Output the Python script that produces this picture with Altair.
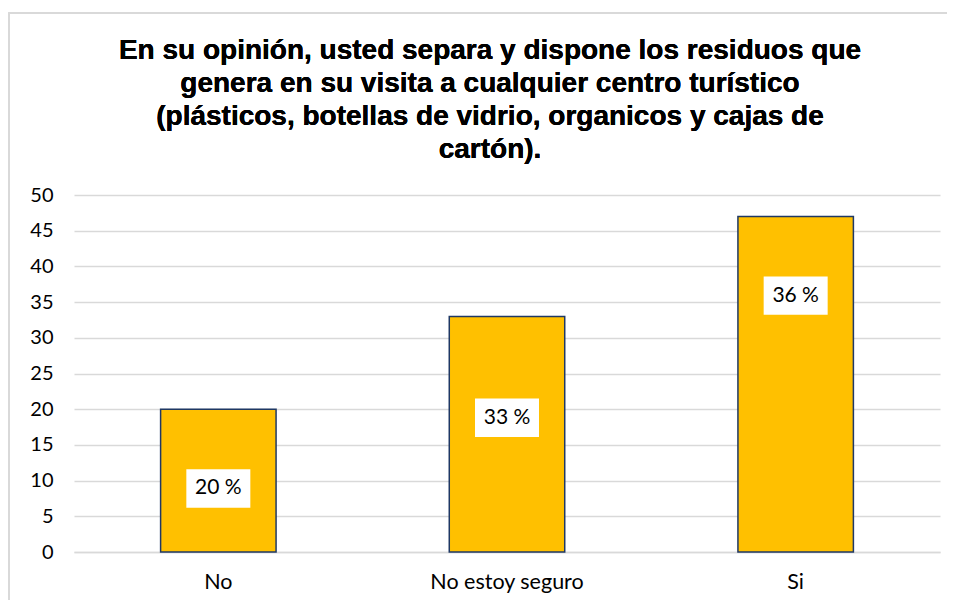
import altair as alt
import pandas as pd

categories = ["No", "No estoy seguro", "Si"]
counts = [20, 33, 47]
label_texts = ["20 %", "33 %", "36 %"]
label_value = [8.9, 18.8, 35.9]

title_lines = [
    "En su opinión, usted separa y dispone los residuos que",
    "genera en su visita a cualquier centro turístico",
    "(plásticos, botellas de vidrio, organicos y cajas de",
    "cartón).",
]

df = pd.DataFrame({"cat": categories, "count": counts,
                   "label": label_texts, "ly": label_value})

W, H = 866, 357

x_axis = alt.Axis(labelAngle=0, labelFont="Lato", labelFontSize=21.5,
                  labelColor="#000000", labelPadding=19, ticks=False,
                  domainColor="#d9d9d9", domainWidth=1.5)
y_axis = alt.Axis(values=list(range(0, 51, 5)), labelOverlap=False,
                  labelFont="Lato", labelFontSize=20, labelColor="#000000",
                  ticks=False, domain=False, gridColor="#d9d9d9",
                  gridWidth=1.5, labelPadding=21)
x_scale = alt.Scale(paddingInner=0.6, paddingOuter=0.3)
y_scale = alt.Scale(domain=[0, 50], nice=False)

x = alt.X("cat:N", sort=categories, title=None, scale=x_scale, axis=x_axis)
y = alt.Y("count:Q", title=None, scale=y_scale, axis=y_axis)
y_lab = alt.Y("ly:Q", title=None, scale=y_scale, axis=y_axis)

frame = alt.Chart(df).mark_rect(fill=None, stroke="#d9d9d9", strokeWidth=1.5,
                                clip=False).encode(
    x=alt.value(-65), x2=alt.value(W + 20), y=alt.value(-182), y2=alt.value(H + 80)
)

title = alt.Chart(df).mark_text(
    text=title_lines, font="Liberation Sans", fontSize=28, fontWeight="bold",
    color="#000000", lineHeight=33, align="center", baseline="top", clip=False
).encode(x=alt.value(416), y=alt.value(-158))

bars = alt.Chart(df).mark_bar(color="#FFC000", stroke="#1F3864",
                              strokeWidth=1.5).encode(x=x, y=y)

boxes = alt.Chart(df).mark_point(
    shape="M -1 -0.6 L 1 -0.6 L 1 0.6 L -1 0.6 Z", size=4096,
    filled=True, fill="#ffffff", opacity=1, strokeWidth=0
).encode(x=x, y=y_lab)

texts = alt.Chart(df).mark_text(font="Lato", fontSize=21, color="#000000",
                                baseline="middle").encode(
    x=x, y=y_lab, text="label:N")

chart = alt.layer(bars, boxes, texts, frame, title).properties(
    width=W, height=H,
    autosize=alt.AutoSizeParams(type="none"),
    padding={"left": 66, "top": 187, "right": 7, "bottom": 48},
).configure_view(stroke=None)

chart.save("out.html", embed_options={"renderer": "svg", "actions": False})
